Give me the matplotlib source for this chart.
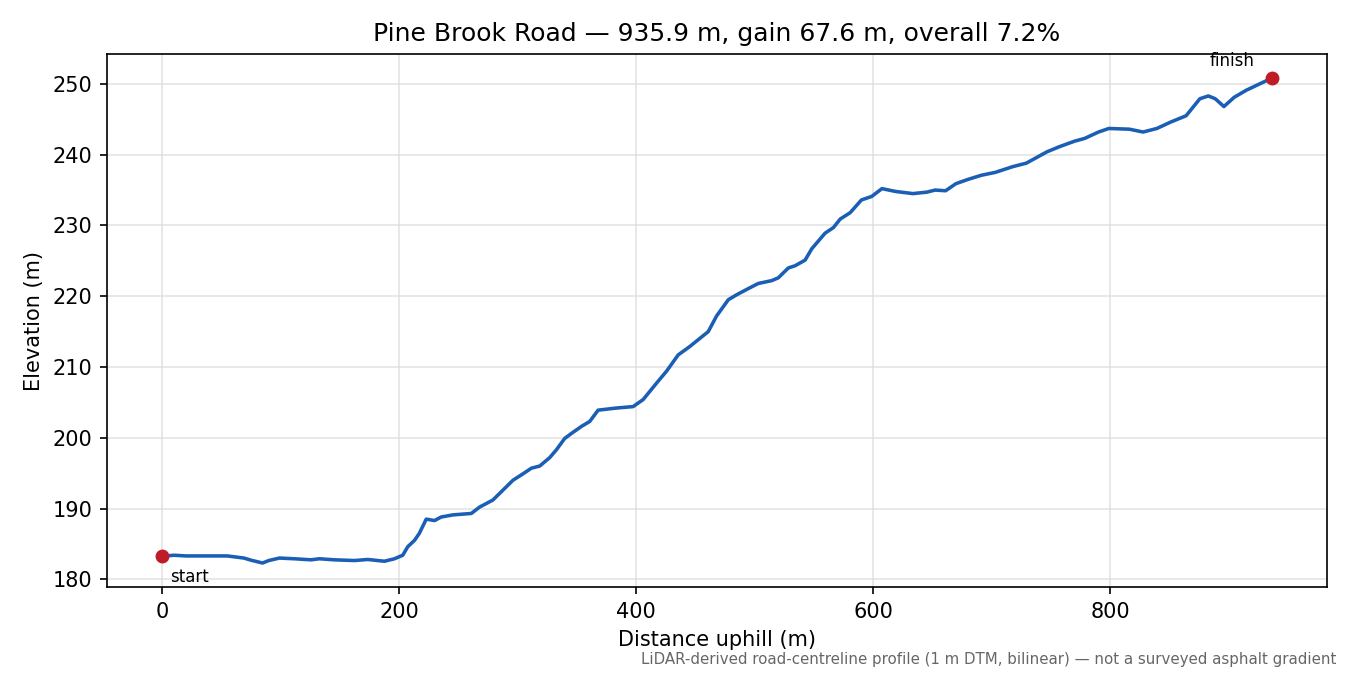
import numpy as np
import matplotlib
matplotlib.use("Agg")
import matplotlib.pyplot as plt

# distance along road (m) and elevation (m)
dist = [0, 10, 20, 35, 55, 69, 75, 84.7, 90, 99, 111.5, 125.6, 132.6, 145.3,
        162.2, 173.5, 187.5, 196, 203, 207.2, 212.9, 217, 222.8, 229.8, 235.4,
        245.3, 260.8, 267.8, 279, 287.5, 296, 304.4, 311.5, 318.5, 327, 332.6,
        339.6, 345.2, 353.7, 360.7, 367.8, 383.3, 397.3, 405.8, 417, 425.5,
        435.3, 445.2, 460.7, 467.7, 477.6, 484.6, 495.9, 502.9, 514.2, 519.8,
        528.3, 533.9, 542.4, 548, 559.2, 566.3, 572, 580.4, 584.1, 589.9,
        598.6, 607.2, 618.8, 633.3, 644.9, 652.2, 660.9, 669.6, 679.7, 691.3,
        702.9, 717.4, 729, 737.7, 746.4, 756.5, 769.6, 778.3, 789.9, 798.6,
        816, 827.5, 839.1, 850.7, 863.8, 875.4, 882.6, 888.4, 895.7, 904.3,
        914.5, 935.9]
elev = [183.25, 183.4, 183.3, 183.3, 183.3, 183.0, 182.7, 182.3, 182.65, 183.0,
        182.9, 182.75, 182.9, 182.75, 182.65, 182.8, 182.55, 182.9, 183.4, 184.6,
        185.5, 186.5, 188.5, 188.3, 188.8, 189.1, 189.3, 190.2, 191.2, 192.6,
        194.0, 194.9, 195.7, 196.0, 197.2, 198.3, 199.9, 200.6, 201.6, 202.3,
        203.9, 204.2, 204.4, 205.4, 207.7, 209.4, 211.7, 212.9, 215.0, 217.2,
        219.5, 220.2, 221.2, 221.8, 222.2, 222.6, 224.0, 224.3, 225.1, 226.7,
        228.9, 229.7, 230.9, 231.8, 232.5, 233.6, 234.1, 235.2, 234.8, 234.5,
        234.7, 235.0, 234.9, 235.9, 236.5, 237.1, 237.5, 238.3, 238.8, 239.6,
        240.4, 241.1, 241.9, 242.3, 243.2, 243.7, 243.6, 243.2, 243.7, 244.6,
        245.5, 247.9, 248.3, 247.9, 246.8, 248.1, 249.1, 250.8]

fig = plt.figure(figsize=(9, 4.5), dpi=150)
ax = fig.add_axes([0.079, 0.130, 0.904, 0.790])

ax.plot(dist, elev, color="#1a5fb4", lw=1.7, zorder=3)
ax.scatter([dist[0], dist[-1]], [elev[0], elev[-1]], color="#c01c28", s=32, zorder=4)

ax.annotate("start", (dist[0], elev[0]), xytext=(4, -5.5), textcoords="offset points",
            ha="left", va="top", fontsize=8)
ax.annotate("finish", (dist[-1], elev[-1]), xytext=(-8, 4), textcoords="offset points",
            ha="right", va="bottom", fontsize=8)

ax.grid(True, color="#dddddd", alpha=0.8, lw=0.8)
ax.set_axisbelow(True)
ax.set_xlabel("Distance uphill (m)")
ax.set_ylabel("Elevation (m)")
ax.set_title("Pine Brook Road \u2014 935.9 m, gain 67.6 m, overall 7.2%", fontsize=12)

fig.text(0.99, 0.012, "LiDAR-derived road-centreline profile (1 m DTM, bilinear) \u2014 not a surveyed asphalt gradient",
         ha="right", va="bottom", fontsize=7.2, color="#666666")

fig.savefig("out.png", dpi=150)
